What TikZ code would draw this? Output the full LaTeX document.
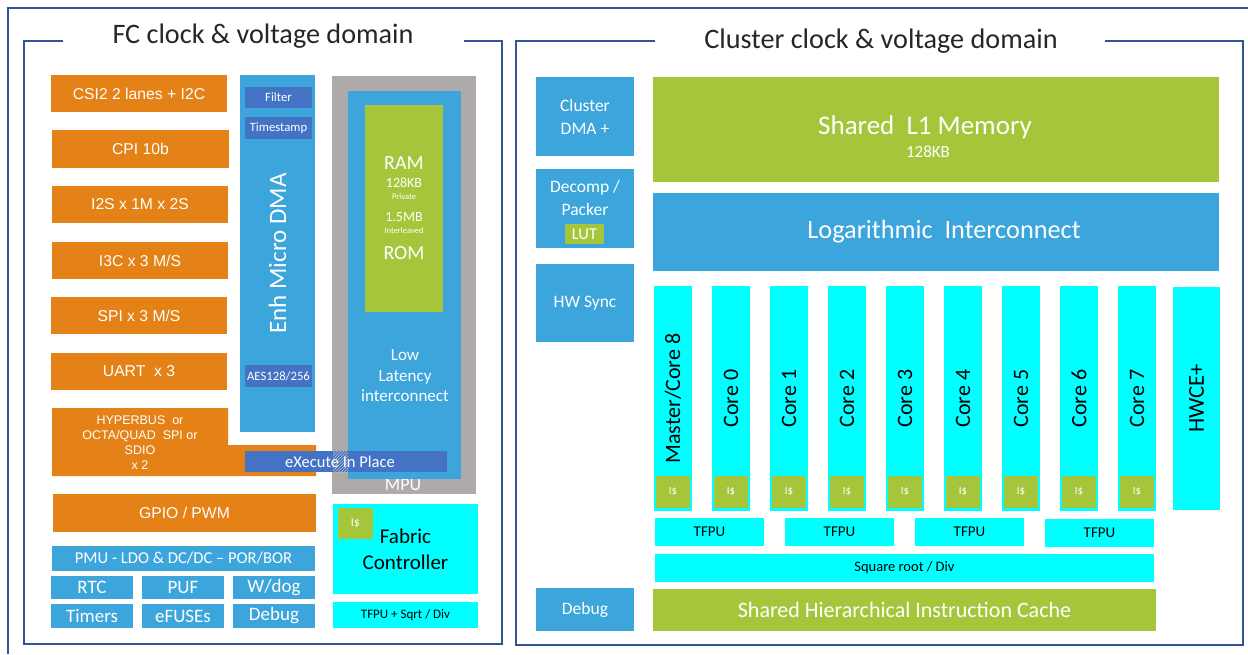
\documentclass[tikz,border=0pt]{standalone}
\usepackage{fontspec}
\setmainfont{Carlito}
\newfontfamily\arialfont{Liberation Sans}
\usetikzlibrary{patterns}

\definecolor{orng}{RGB}{228,130,23}
\definecolor{skyb}{RGB}{60,165,220}
\definecolor{darkb}{RGB}{68,114,196}
\definecolor{leaf}{RGB}{165,198,59}
\definecolor{aqua}{RGB}{0,255,255}
\definecolor{mpugray}{RGB}{174,170,170}
\definecolor{frameb}{RGB}{47,85,151}
\definecolor{titlegray}{RGB}{38,38,38}

\newcommand{\fsz}[2]{\fontsize{#1}{#2}\selectfont}

\tikzset{
  blk/.style={anchor=north west, inner sep=0pt, outer sep=0pt, align=center, text=white},
  orngblk/.style={blk, fill=orng, font=\arialfont\fsz{15.7}{18}},
  skyblk/.style={blk, fill=skyb},
  darkblk/.style={blk, fill=darkb, font=\fsz{12.7}{14}},
  leafblk/.style={blk, fill=leaf},
  aquablk/.style={blk, fill=aqua, text=black},
  frameline/.style={frameb, line width=2.6pt},
  domtitle/.style={anchor=base, text=titlegray, font=\fsz{28.2}{32}},
  corebox/.style={aquablk, anchor=center, rotate=90, minimum width=225pt,
    minimum height=38pt, font=\fsz{22}{26}},
  icache/.style={leafblk, minimum width=34pt, minimum height=32pt, font=\fsz{11}{13}},
  tfpublk/.style={aquablk, minimum width=109pt, minimum height=28pt, font=\fsz{15}{17}},
}

\begin{document}
\begin{tikzpicture}[x=1pt,y=-1pt]
      \useasboundingbox (0,0) rectangle (1248,654);

      % outer and domain frames
      \draw[frameline] (1248,8) -- (8,8) -- (8,654);
      \draw[frameline] (63,41) -- (24,41) -- (24,644) -- (502,644) -- (502,41) -- (464,41);
      \draw[frameline] (655,41) -- (516,41) -- (516,645) -- (1243,645) -- (1243,41) -- (1105,41);
      \node[domtitle] (fctitle) at (263,43) {FC clock \& voltage domain};
      \node[domtitle] (cltitle) at (881,48) {Cluster clock \& voltage domain};

      % FC peripherals
      \node[orngblk, minimum width=176pt, minimum height=37pt] (csi) at (51,75) {CSI2 2 lanes + I2C};
      \node[orngblk, minimum width=177pt, minimum height=38pt] (cpi) at (52,130) {CPI 10b};
      \node[orngblk, minimum width=176pt, minimum height=37pt] (i2s) at (52,186) {I2S x 1M x 2S};
      \node[orngblk, minimum width=176pt, minimum height=37pt] (i3c) at (52,242) {I3C x 3 M/S};
      \node[orngblk, minimum width=176pt, minimum height=37pt] (spi) at (51,297) {SPI x 3 M/S};
      \node[orngblk, minimum width=176pt, minimum height=37pt] (uart) at (51,353) {UART\ \ x 3};
      \fill[orng] (52,408) -- (228,408) -- (228,445) -- (316,445) -- (316,476) -- (52,476) -- cycle;
      \node[text=white, align=center, font=\arialfont\fsz{12.5}{15}] (hyper) at (140,442.5)
            {HYPERBUS\ \ or\\OCTA/QUAD\ \ SPI or\\SDIO\\x 2};
      \node[orngblk, minimum width=263pt, minimum height=38pt] (gpio) at (53,494) {GPIO / PWM};

      \node[skyblk, minimum width=263pt, minimum height=25pt, font=\fsz{16.6}{18}] (pmu) at (52,546)
            {PMU - LDO \& DC/DC -- POR/BOR};
      \node[skyblk, minimum width=82pt, minimum height=23pt, font=\fsz{19}{21}] (rtc) at (51,576) {RTC};
      \node[skyblk, minimum width=82pt, minimum height=23pt, font=\fsz{19}{21}] (puf) at (142,576) {PUF};
      \node[skyblk, minimum width=82pt, minimum height=23pt, font=\fsz{19}{21}] (wdog) at (233,576) {W/dog};
      \node[skyblk, minimum width=82pt, minimum height=24pt, font=\fsz{19}{21}] (timers) at (51,604) {Timers};
      \node[skyblk, minimum width=82pt, minimum height=24pt, font=\fsz{19}{21}] (efuse) at (142,604) {eFUSEs};
      \node[skyblk, minimum width=82pt, minimum height=24pt, font=\fsz{19}{21}] (fcdbg) at (233,604) {Debug};

      % micro DMA
      \node[skyblk, anchor=center, rotate=90, minimum width=357pt, minimum height=75pt,
            font=\fsz{25}{28}] (udma) at (277.5,253.5) {Enh Micro DMA};
      \node[darkblk, minimum width=67pt, minimum height=21pt] (filter) at (245,87) {Filter};
      \node[darkblk, minimum width=67pt, minimum height=22pt] (tstamp) at (245,117) {Timestamp};
      \node[darkblk, minimum width=67pt, minimum height=22pt] (aes) at (245,365) {AES128/256};

      % memory, MPU and interconnect
      \node[blk, fill=mpugray, minimum width=144pt, minimum height=418pt] (mpu) at (332,76) {};
      \node[text=white, font=\fsz{18}{20}] (mputxt) at (403,485) {MPU};
      \node[skyblk, minimum width=113pt, minimum height=388pt] (lowlat) at (348,91) {};
      \node[text=white, align=center, font=\fsz{17}{20.5}] (lowlattxt) at (405,376)
            {Low\\Latency\\interconnect};
      \node[leafblk, minimum width=78pt, minimum height=207pt] (ram) at (365,105) {};
      \node[text=white, font=\fsz{20}{22}] (ramtxt) at (404,163) {RAM};
      \node[text=white, font=\fsz{14}{16}] (ramkb) at (404,183) {128KB};
      \node[text=white, font=\fsz{8.5}{10}] (ramprv) at (404,197) {Private};
      \node[text=white, font=\fsz{14}{16}] (rammb) at (404,217) {1.5MB};
      \node[text=white, font=\fsz{8.5}{10}] (ramint) at (404,231) {Interleaved};
      \node[text=white, font=\fsz{20}{22}] (romtxt) at (404,253) {ROM};

      \node[darkblk, minimum width=202pt, minimum height=21pt] (xip) at (245,451) {};
      \fill[pattern=north east lines, pattern color=mpugray!70] (333,451) rectangle (348,472);
      \node[text=white, font=\fsz{16.5}{18}] (xiptxt) at (340,461.5) {eXecute In Place};

      % fabric controller
      \node[aquablk, minimum width=145pt, minimum height=90pt, font=\fsz{21}{26}] (fc) at (333,504)
            {Fabric\\Controller};
      \node[leafblk, minimum width=35pt, minimum height=31pt, font=\fsz{12}{14}] (fcicache) at (338,508) {I\$};
      \node[aquablk, minimum width=145pt, minimum height=26pt, font=\fsz{13}{15}] (fctfpu) at (333,602)
            {TFPU + Sqrt / Div};

      % cluster side blocks
      \node[skyblk, minimum width=98pt, minimum height=79pt, font=\fsz{17.5}{23}] (cdma) at (536,77)
            {Cluster\\DMA +};
      \node[skyblk, minimum width=98pt, minimum height=79pt] (decomp) at (536,169) {};
      \node[text=white, align=center, font=\fsz{17.5}{23}] (decomptxt) at (585,198) {Decomp /\\Packer};
      \node[leafblk, minimum width=39pt, minimum height=20pt, font=\fsz{16.5}{18}] (lut) at (565,224) {LUT};
      \node[skyblk, minimum width=98pt, minimum height=78pt, font=\fsz{17.5}{20}] (hwsync) at (536,264) {HW Sync};
      \node[skyblk, minimum width=98pt, minimum height=43pt, font=\fsz{17.5}{20}] (cldbg) at (536,588) {Debug};

      \node[leafblk, minimum width=566pt, minimum height=105pt] (l1) at (653,77) {};
      \node[text=white, font=\fsz{27}{30}] (l1txt) at (925,127) {Shared\ \ L1 Memory};
      \node[text=white, font=\fsz{17}{19}] (l1kb) at (928,152) {128KB};
      \node[skyblk, minimum width=566pt, minimum height=78pt] (logic) at (653,193) {};
      \node[text=white, font=\fsz{26.3}{30}] (logictxt) at (944,232) {Logarithmic\ \ Interconnect};

      % cores
      \node[corebox] (core8) at (673,398.5) {Master/Core 8};
      \node[corebox] (core0) at (731,398.5) {Core 0};
      \node[corebox] (core1) at (789,398.5) {Core 1};
      \node[corebox] (core2) at (847,398.5) {Core 2};
      \node[corebox] (core3) at (905,398.5) {Core 3};
      \node[corebox] (core4) at (963,398.5) {Core 4};
      \node[corebox] (core5) at (1021,398.5) {Core 5};
      \node[corebox] (core6) at (1079,398.5) {Core 6};
      \node[corebox] (core7) at (1137,398.5) {Core 7};
      \node[corebox, minimum height=47pt, minimum width=223pt, font=\fsz{22.8}{26}] (hwce) at (1196.5,398.5) {HWCE+};

      \node[icache] (ic8) at (656,476) {I\$};
      \node[icache] (ic0) at (714,476) {I\$};
      \node[icache] (ic1) at (772,476) {I\$};
      \node[icache] (ic2) at (830,476) {I\$};
      \node[icache] (ic3) at (888,476) {I\$};
      \node[icache] (ic4) at (946,476) {I\$};
      \node[icache] (ic5) at (1004,476) {I\$};
      \node[icache] (ic6) at (1062,476) {I\$};
      \node[icache] (ic7) at (1120,476) {I\$};

      \node[tfpublk] (tfpua) at (655,518) {TFPU};
      \node[tfpublk] (tfpub) at (785,518) {TFPU};
      \node[tfpublk] (tfpuc) at (915,518) {TFPU};
      \node[tfpublk] (tfpud) at (1045,519) {TFPU};
      \node[aquablk, minimum width=499pt, minimum height=28pt, font=\fsz{14.5}{16}] (sqrtdiv) at (655,554)
            {Square root / Div};
      \node[leafblk, minimum width=503pt, minimum height=42pt, font=\fsz{22}{24}] (shic) at (653,589)
            {Shared Hierarchical Instruction Cache};
\end{tikzpicture}
\end{document}
